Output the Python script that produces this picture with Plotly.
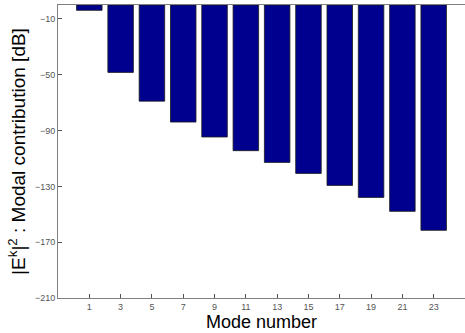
import plotly.graph_objects as go

modes = [1, 3, 5, 7, 9, 11, 13, 15, 17, 19, 21, 23]
contribution_db = [-3.8, -48.3, -68.9, -83.9, -94.6, -104.4, -112.8, -120.7, -129.3, -137.9, -147.9, -161.5]
y_ticks = [-210, -170, -130, -90, -50, -10]

fig = go.Figure(go.Bar(
    x=modes, y=contribution_db, width=1.63,
    marker=dict(color="#00008F", line=dict(color="#1a1a1a", width=0.8)),
))

axis_common = dict(showgrid=False, zeroline=False, showline=True, linecolor="#7f7f7f",
                   linewidth=1, mirror=True, ticks="inside", ticklen=4, tickcolor="#555",
                   tickfont=dict(family="Arial, Liberation Sans", size=9, color="#555"))

fig.update_xaxes(range=[-1, 25], tickvals=modes, **axis_common,
                 title=dict(text="Mode number", font=dict(family="Arial, Liberation Sans", size=18, color="black"), standoff=0))
fig.update_yaxes(range=[-210, 0], tickvals=y_ticks, **axis_common,
                 title=dict(text="|E<sup>k</sup>|<sup>2</sup> : Modal contribution [dB]",
                            font=dict(family="Arial, Liberation Sans", size=19, color="black"), standoff=4))

fig.update_layout(width=465, height=333, margin=dict(l=58, r=0, t=5, b=35),
                  plot_bgcolor="white", paper_bgcolor="white", showlegend=False)

fig.write_html("out.html")
